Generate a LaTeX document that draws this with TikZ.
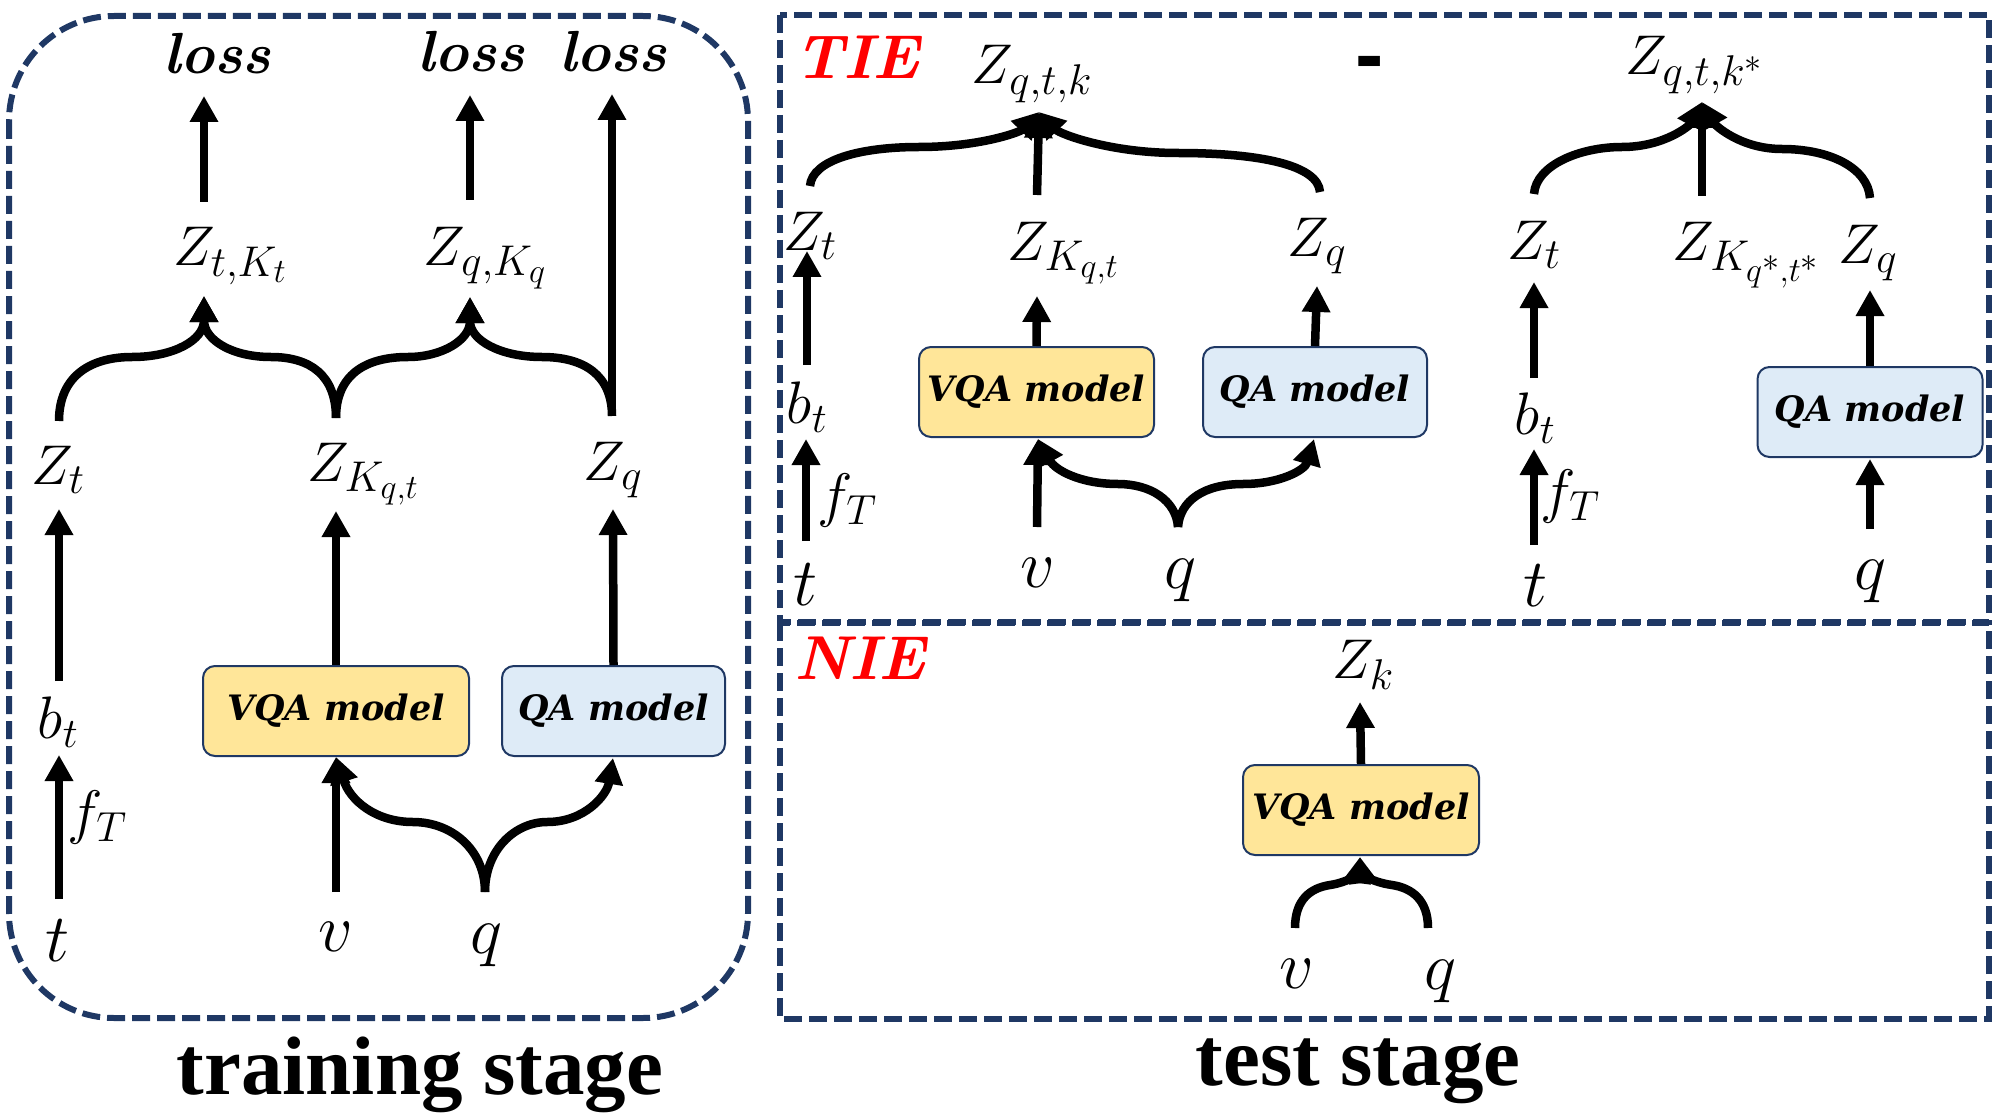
\documentclass[tikz,border=0pt]{standalone}
\usepackage{fix-cm}
\usepackage{fontspec}
\newfontfamily\serifb{Liberation Serif}
\newfontfamily\sansb{Liberation Sans}
\newfontfamily\modelfont{DejaVu Serif}
\DeclareMathSizes{56}{56}{43}{34}
\usetikzlibrary{arrows.meta}
\definecolor{navy}{HTML}{1F3864}
\definecolor{vqafill}{HTML}{FFE699}
\definecolor{qafill}{HTML}{DEEBF7}
\tikzset{
  lbl/.style={inner sep=0pt, font=\fontsize{56}{60}\selectfont},
  small/.style={inner sep=0pt, font=\fontsize{60}{64}\selectfont},
  big/.style={inner sep=0pt, font=\fontsize{68}{72}\selectfont},
  losslbl/.style={inner sep=0pt, font=\fontsize{58}{62}\selectfont\bfseries\itshape},
  model/.style={draw=navy, line width=2pt, rounded corners=12pt, inner sep=0pt,
    minimum height=90pt, font=\fontsize{35}{38}\selectfont\modelfont\bfseries\itshape},
  vqa/.style={model, fill=vqafill},
  qa/.style={model, fill=qafill},
  arr/.style={line width=8.5pt, -{Triangle[width=27pt,length=26pt]}},
  frame/.style={draw=navy, line width=6pt, dash pattern=on 18pt off 7pt},
  effect/.style={inner sep=0pt, text=red, font=\fontsize{62}{64}\selectfont\bfseries\itshape},
  stagelbl/.style={inner sep=0pt, anchor=base, font=\fontsize{83}{86}\selectfont\serifb\bfseries},
}
\begin{document}
\begin{tikzpicture}[x=1pt,y=-1pt]
\useasboundingbox (0,0) rectangle (1999,1115);
% ---------- frames ----------
\draw[frame, rounded corners=105pt] (9,16) rectangle (748,1018);
\draw[frame] (780,15) rectangle (1989,622);
\draw[frame] (780,623) rectangle (1989,1019);

% ---------- training stage ----------
\node[losslbl] (lossA) at (217,54) {loss};
\node[losslbl] (lossB) at (471,52) {loss};
\node[losslbl] (lossC) at (613,52) {loss};
\node[lbl] (Ztk) at (230,256) {$Z_{t,K_t}$};
\node[lbl] (Zqk) at (485,258) {$Z_{q,K_q}$};
\node[lbl] (Zt) at (58,470) {$Z_t$};
\node[lbl] (ZKqt) at (363,474) {$Z_{K_{q,t}}$};
\node[lbl] (Zq) at (613,470) {$Z_q$};
\node[small] (bt) at (58,722) {$b_t$};
\node[small] (fT) at (97,817) {$f_T$};
\node[big] (t) at (58,941) {$t$};
\node[big] (v) at (336,937) {$v$};
\node[big] (q) at (486,945) {$q$};
\node[vqa, minimum width=266pt] (vqa) at (336,711) {VQA model};
\node[qa, minimum width=223pt] (qa) at (613.5,711) {QA model};
\node[stagelbl] (trainlbl) at (420,1094) {training stage};

\coordinate (ZtkOut) at (204,202);   \coordinate (lossAIn) at (204,96);
\coordinate (ZqkOut) at (470,200);   \coordinate (lossBIn) at (470,95);
\coordinate (ZqOut) at (612,416);    \coordinate (lossCIn) at (612,94);
\coordinate (ZtOut) at (59,421);     \coordinate (ZKqtOut) at (336,418);
\coordinate (ZtkIn) at (204,296);    \coordinate (ZqkIn) at (470,297);
\coordinate (btOut) at (59,681);     \coordinate (ZtIn) at (59,509);
\coordinate (tOut) at (59,899);      \coordinate (btIn) at (59,755);
\coordinate (ZKqtIn) at (336,511);   \coordinate (ZqIn) at (613,509);
\coordinate (vOut) at (336,892);     \coordinate (vqaIn) at (336,757);
\coordinate (qOut) at (485,892);     \coordinate (qaIn) at (613,758);

\draw[arr] (ZtkOut) -- (lossAIn);
\draw[arr] (ZqkOut) -- (lossBIn);
\draw[arr] (ZqOut) -- (lossCIn);
\draw[arr] (ZtOut) .. controls (59,375) and (92,357) .. (132,357)
                   .. controls (174,357) and (204,340) .. (ZtkIn);
\draw[arr] (ZKqtOut) .. controls (336,375) and (310,357) .. (271,357)
                     .. controls (232,357) and (204,340) .. (ZtkIn);
\draw[arr] (ZKqtOut) .. controls (336,375) and (365,357) .. (408,357)
                     .. controls (442,357) and (470,340) .. (ZqkIn);
\draw[arr] (ZqOut) .. controls (612,375) and (584,357) .. (542,357)
                   .. controls (500,357) and (470,340) .. (ZqkIn);
\draw[arr] (btOut) -- (ZtIn);
\draw[arr] (tOut) -- (btIn);
\draw[arr] (vqa.north) -- (ZKqtIn);
\draw[arr] (qa.north) -- (ZqIn);
\draw[arr] (vOut) -- (vqaIn);
\draw[arr] (qOut) .. controls (485,850) and (452,822) .. (413,822)
                  .. controls (375,822) and (350,800) .. (vqaIn);
\draw[arr] (qOut) .. controls (485,850) and (515,822) .. (547,822)
                  .. controls (585,822) and (607,795) .. (qaIn);

% ---------- test stage: TIE ----------
\node[effect] (tie) at (857,57) {TIE};
\node[lbl] (Zqtk) at (1032,74) {$Z_{q,t,k}$};
\node[inner sep=0pt, anchor=base, font=\fontsize{85}{88}\selectfont\sansb\bfseries] (minus) at (1370,84) {-};
\node[lbl] (Zt2) at (810,236) {$Z_t$};
\node[lbl] (ZKqt2) at (1063,253) {$Z_{K_{q,t}}$};
\node[lbl] (Zq2) at (1317,246) {$Z_q$};
\node[small] (bt2) at (807,407) {$b_t$};
\node[small] (fT2) at (847,500) {$f_T$};
\node[big] (t2) at (806,585) {$t$};
\node[vqa, minimum width=235pt] (vqa2) at (1036.5,392) {VQA model};
\node[qa, minimum width=224pt] (qa2) at (1315,392) {QA model};
\node[big] (v2) at (1038,573) {$v$};
\node[big] (q2) at (1180,580) {$q$};

\coordinate (ZqtkIn) at (1039,112);
\coordinate (Zt2Out) at (810,186);   \coordinate (ZKqt2Out) at (1037,195);
\coordinate (Zq2Out) at (1320,192);
\coordinate (bt2Out) at (807,365);   \coordinate (Zt2In) at (807,251);
\coordinate (t2Out) at (806,541);    \coordinate (bt2In) at (806,439);
\coordinate (ZKqt2In) at (1037,296); \coordinate (Zq2In) at (1317,286);
\coordinate (v2Out) at (1037,527);   \coordinate (vqa2In) at (1038,439);
\coordinate (q2Out) at (1178,527);   \coordinate (qa2In) at (1314,439);

\draw[arr] (Zt2Out) .. controls (812,160) and (860,147) .. (919,147)
                    .. controls (980,147) and (1020,132) .. (ZqtkIn);
\draw[arr] (ZKqt2Out) -- (ZqtkIn);
\draw[arr] (Zq2Out) .. controls (1318,165) and (1260,153) .. (1178,153)
                    .. controls (1110,153) and (1060,134) .. (ZqtkIn);
\draw[arr] (bt2Out) -- (Zt2In);
\draw[arr] (t2Out) -- (bt2In);
\draw[arr] (vqa2.north) -- (ZKqt2In);
\draw[arr] (qa2.north) -- (Zq2In);
\draw[arr] (v2Out) -- (vqa2In);
\draw[arr] (q2Out) .. controls (1176,500) and (1150,484) .. (1118,484)
                   .. controls (1080,484) and (1055,470) .. (vqa2In);
\draw[arr] (q2Out) .. controls (1180,500) and (1205,484) .. (1243,484)
                   .. controls (1280,484) and (1305,470) .. (qa2In);

% right half of TIE
\node[lbl] (Zqtks) at (1694,65) {$Z_{q,t,k^*}$};
\node[lbl] (Zt3) at (1534,245) {$Z_t$};
\node[lbl] (ZKs) at (1746,255) {$Z_{K_{q^*,t^*}}$};
\node[lbl] (Zq3) at (1868,253) {$Z_q$};
\node[small] (bt3) at (1535,418) {$b_t$};
\node[small] (fT3) at (1570,496) {$f_T$};
\node[big] (t3) at (1536,586) {$t$};
\node[qa, minimum width=225pt] (qa3) at (1870,412) {QA model};
\node[big] (q3) at (1870,581) {$q$};

\coordinate (ZqtksIn) at (1702,102);
\coordinate (Zt3Out) at (1534,194);  \coordinate (ZKsOut) at (1702,196);
\coordinate (Zq3Out) at (1870,198);
\coordinate (bt3Out) at (1534,378);  \coordinate (Zt3In) at (1534,282);
\coordinate (t3Out) at (1534,545);   \coordinate (bt3In) at (1534,449);
\coordinate (Zq3In) at (1870,290);
\coordinate (q3Out) at (1870,529);   \coordinate (qa3In) at (1870,459);

\draw[arr] (Zt3Out) .. controls (1536,165) and (1580,147) .. (1622,147)
                    .. controls (1665,147) and (1690,125) .. (ZqtksIn);
\draw[arr] (ZKsOut) -- (ZqtksIn);
\draw[arr] (Zq3Out) .. controls (1868,168) and (1830,149) .. (1782,149)
                    .. controls (1740,149) and (1715,125) .. (ZqtksIn);
\draw[arr] (bt3Out) -- (Zt3In);
\draw[arr] (t3Out) -- (bt3In);
\draw[arr] (qa3.north) -- (Zq3In);
\draw[arr] (q3Out) -- (qa3In);

% ---------- test stage: NIE ----------
\node[effect] (nie) at (860,658) {NIE};
\node[lbl] (Zk) at (1363,665) {$Z_k$};
\node[vqa, minimum width=236pt] (vqa4) at (1361,810) {VQA model};
\node[big] (v4) at (1297,974) {$v$};
\node[big] (q4) at (1440,981) {$q$};
\node[stagelbl] (testlbl) at (1358,1085) {test stage};

\coordinate (ZkIn) at (1360,702);
\coordinate (vqa4In) at (1360,857);
\coordinate (v4Out) at (1295,928);   \coordinate (q4Out) at (1428,928);

\draw[arr] (vqa4.north) -- (ZkIn);
\draw[arr] (v4Out) .. controls (1295,900) and (1310,888) .. (1330,885)
                   .. controls (1350,882) and (1358,872) .. (vqa4In);
\draw[arr] (q4Out) .. controls (1428,900) and (1412,888) .. (1392,885)
                   .. controls (1370,882) and (1362,872) .. (vqa4In);
\end{tikzpicture}
\end{document}
